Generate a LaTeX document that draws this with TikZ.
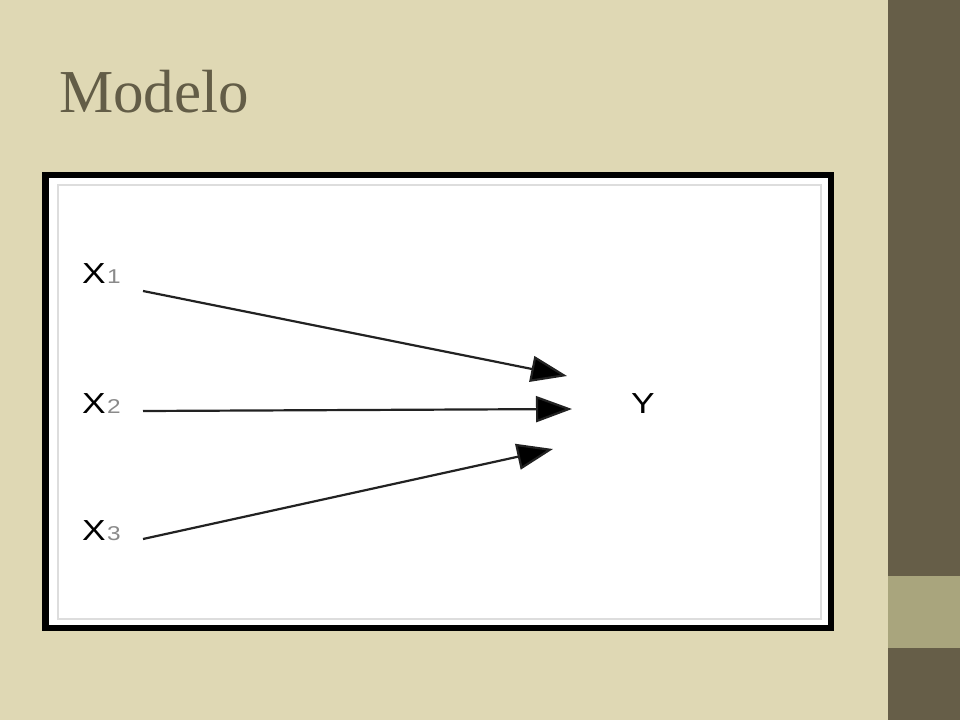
\documentclass[tikz,border=0pt]{standalone}
\usepackage{fontspec}
\setmainfont{Liberation Serif}
\newfontfamily\lblfont{Liberation Sans}
\usetikzlibrary{arrows.meta}
\definecolor{bgbeige}{HTML}{DFD8B4}
\definecolor{bardark}{HTML}{665E48}
\definecolor{barlight}{HTML}{A9A57D}
\definecolor{titlecol}{HTML}{635D47}
\definecolor{innergray}{HTML}{DDDDDD}
\definecolor{subgray}{HTML}{8A8A8A}
\definecolor{linecol}{HTML}{222222}
\tikzset{
  varlbl/.style={inner sep=0pt, anchor=base west, font=\lblfont\fontsize{29}{29}\selectfont, text=black},
  conn/.style={draw=linecol, line width=2.2pt, -{Triangle[length=36pt,width=26pt,fill=black]}, color=linecol},
}
\newcommand{\subd}[1]{\kern1pt{\fontsize{20}{20}\selectfont\color{subgray}#1}}
\newcommand{\wide}[1]{\scalebox{1.22}[1]{#1}}
\begin{document}
\begin{tikzpicture}[x=1pt,y=-1pt]
\useasboundingbox (0,0) rectangle (960,720);
\fill[bgbeige] (0,0) rectangle (960,720);
\fill[bardark] (888,0) rectangle (960,720);
\fill[barlight] (888,576) rectangle (960,648);
\node[inner sep=0pt, anchor=base west, font=\fontsize{61}{61}\selectfont, text=titlecol] (title) at (59,112) {Modelo};
% frame
\fill[black] (42,172) rectangle (834,631);
\fill[white] (49,178) rectangle (828,625);
\draw[innergray, line width=1.5pt] (58,185) rectangle (821,619);
% labels
\node[varlbl] (x1) at (82,283) {\wide{X\subd{1}}};
\node[varlbl] (x2) at (82,413) {\wide{X\subd{2}}};
\node[varlbl] (x3) at (82,540) {\wide{X\subd{3}}};
\node[varlbl] (y) at (631,413) {\wide{Y}};
% connector ends
\coordinate (s1) at (143,291);
\coordinate (s2) at (143,411);
\coordinate (s3) at (143,539);
\coordinate (t1) at (567,376);
\coordinate (t2) at (572,409);
\coordinate (t3) at (553,449);
\draw[conn] (s1) -- (t1);
\draw[conn] (s2) -- (t2);
\draw[conn] (s3) -- (t3);
\end{tikzpicture}
\end{document}
